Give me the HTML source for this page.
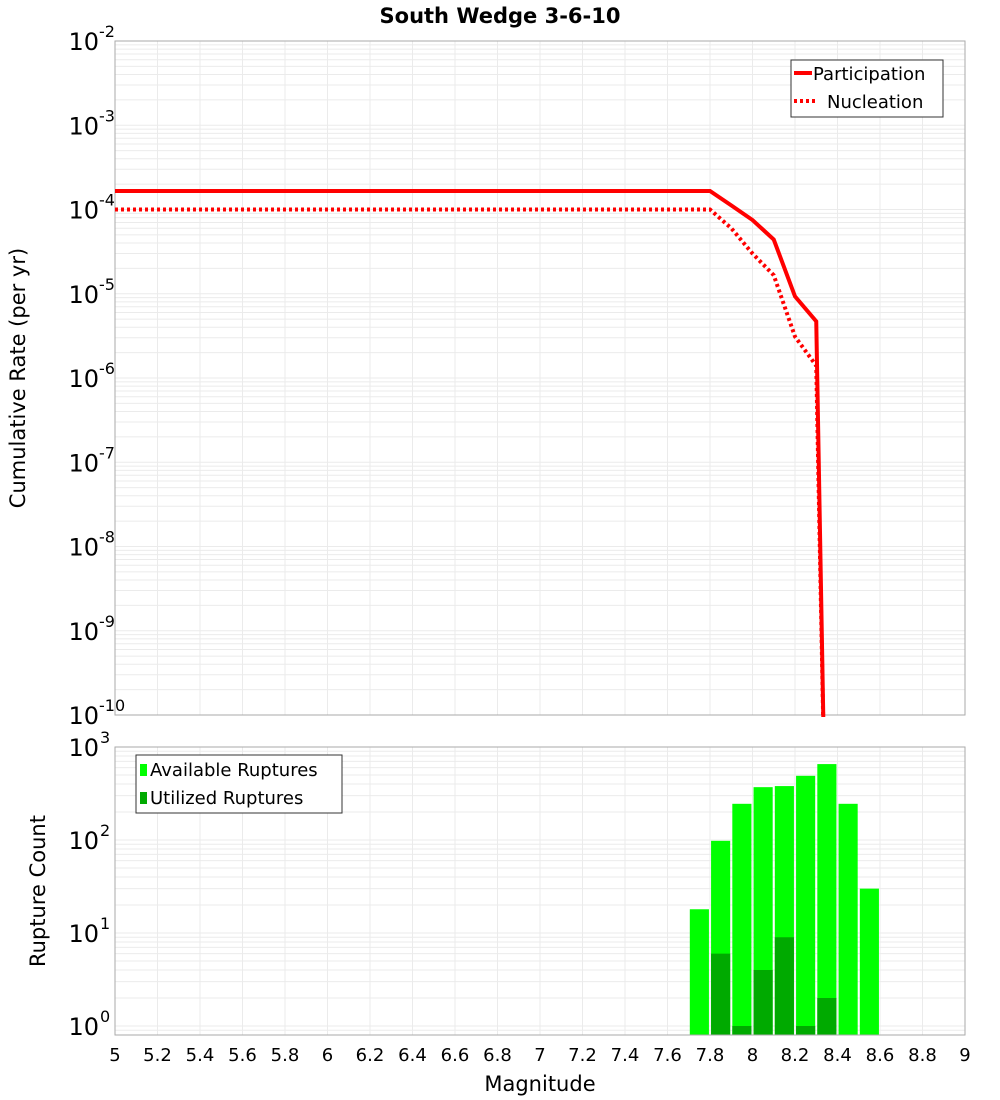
<!DOCTYPE html>
<html><head><meta charset="utf-8"><style>
body{margin:0;background:#fff;}
svg{display:block;font-family:"DejaVu Sans","Liberation Sans",sans-serif;}
</style></head><body>
<svg id="chart" width="1000" height="1100" viewBox="0 0 1000 1100" xmlns="http://www.w3.org/2000/svg">
<text x="500" y="23" text-anchor="middle" font-size="21" font-weight="bold">South Wedge 3-6-10</text>
<g id="topplot"></g>
<g id="botplot"></g>
<text transform="translate(25,378) rotate(-90)" text-anchor="middle" font-size="21">Cumulative Rate (per yr)</text>
<text transform="translate(45,891) rotate(-90)" text-anchor="middle" font-size="21">Rupture Count</text>
<text x="540" y="1091" text-anchor="middle" font-size="21">Magnitude</text>
</svg>
<script>
const partMags=[5,7.8,7.9,8.0,8.1,8.2,8.3,8.34];
const partRates=[1.66e-4,1.66e-4,1.12e-4,7.5e-5,4.4e-5,9.3e-6,4.7e-6,1e-11];
const nuclMags=[5,7.8,7.9,8.0,8.1,8.2,8.3,8.34];
const nuclRates=[1e-4,1e-4,6e-5,3e-5,1.66e-5,3.1e-6,1.4e-6,1e-11];
const binMags=[7.75,7.85,7.95,8.05,8.15,8.25,8.35,8.45,8.55];
const availCounts=[18,98,245,370,380,490,655,245,30];
const usedCounts=[0,6,1,4,9,1,2,0,0];
const xTicks=[5,5.2,5.4,5.6,5.8,6,6.2,6.4,6.6,6.8,7,7.2,7.4,7.6,7.8,8,8.2,8.4,8.6,8.8,9];
const topExps=[-2,-3,-4,-5,-6,-7,-8,-9,-10];
const botExps=[3,2,1,0];

const NS="http://www.w3.org/2000/svg";
const L=115,R=965;
const X=m=>L+(m-5)/4*(R-L);
const T0=41,T1=715;
const Yt=v=>T0+(-2-Math.log10(v))*(T1-T0)/8;
const B0=747,B1=1035,BZ=1026;
const Yb=v=>BZ-Math.log10(v)*(BZ-B0)/3;
function mk(p,tag,attrs){const e=document.createElementNS(NS,tag);for(const k in attrs)e.setAttribute(k,attrs[k]);p.appendChild(e);return e;}
const topG=document.getElementById('topplot'),botG=document.getElementById('botplot');

function grid(g,y0,y1,decY,dmin,dmax){
  for(let d=dmin;d<dmax;d++)for(let k=1;k<10;k++){const y=decY(Math.pow(10,d)*k);if(y<y0-0.5||y>y1+0.5)continue;
    const l=mk(g,'line',{x1:L,x2:R,y1:y,y2:y,stroke:'#ebebeb','stroke-width':1});
    
    }
  xTicks.forEach(t=>{const l=mk(g,'line',{x1:X(t),x2:X(t),y1:y0,y2:y1,stroke:'#ebebeb','stroke-width':1});
    
    });
}
grid(topG,T0,T1,Yt,-10,-2);
grid(botG,B0,B1,Yb,-1,3);

let f=mk(topG,'rect',{x:L,y:T0,width:R-L,height:T1-T0,fill:'none',stroke:'#aaa','stroke-width':1});


topExps.forEach(e=>{const y=Yt(Math.pow(10,e));
  const t=mk(topG,'text',{x:99,y:y+9,'text-anchor':'end','font-size':24});t.textContent='10';
  
  
  const s=mk(topG,'text',{x:99,y:y-4,'font-size':16});s.textContent=String(e);
  
  });
const clip=mk(topG,'clipPath',{id:'tc'});mk(clip,'rect',{x:L,y:T0,width:R-L,height:T1-T0+2});
function line(mags,vals,dash,name){const p=mags.map((m,i)=>X(m)+','+Yt(vals[i])).join(' ');
  const a={points:p,fill:'none',stroke:'#ff0000','stroke-width':4,'clip-path':'url(#tc)','stroke-linejoin':'miter'};
  if(dash)a['stroke-dasharray']='3,3';
  const e=mk(topG,'polyline',a);
  
  }
line(nuclMags,nuclRates,true,'nucleation-line');
line(partMags,partRates,false,'participation-line');
let lg=mk(topG,'g',{});


mk(lg,'rect',{x:791,y:60,width:152,height:57,fill:'#fff',stroke:'#333','stroke-width':1});
mk(lg,'line',{x1:794,x2:812,y1:73,y2:73,stroke:'#f00','stroke-width':4});
mk(lg,'line',{x1:794,x2:818,y1:101,y2:101,stroke:'#f00','stroke-width':4,'stroke-dasharray':'3,3'});
let t=mk(lg,'text',{x:813,y:80,'font-size':18});t.textContent='Participation';


t=mk(lg,'text',{x:827,y:108,'font-size':18});t.textContent='Nucleation';



const bw=(X(5.1)-X(5))*0.9;
const yb=v=>Math.min(B1,Yb(Math.max(v,1e-3)));
binMags.forEach((m,i)=>{
  const y=yb(availCounts[i]);const r=mk(botG,'rect',{x:X(m)-bw/2,y:y,width:bw,height:B1-y,fill:'#00ff00'});
  
  
  if(usedCounts[i]>0){const y2=yb(usedCounts[i]);const u=mk(botG,'rect',{x:X(m)-bw/2,y:y2,width:bw,height:B1-y2,fill:'#00aa00'});
  
  }
});
f=mk(botG,'rect',{x:L,y:B0,width:R-L,height:B1-B0,fill:'none',stroke:'#aaa','stroke-width':1});


botExps.forEach(e=>{const y=Yb(Math.pow(10,e));
  const t=mk(botG,'text',{x:99,y:y+9,'text-anchor':'end','font-size':24});t.textContent='10';
  
  
  const s=mk(botG,'text',{x:100,y:y-4,'font-size':16});s.textContent=String(e);
  
  });
xTicks.forEach(v=>{const t=mk(botG,'text',{x:X(v),y:1061,'text-anchor':'middle','font-size':18});t.textContent=String(v);
  
  });
lg=mk(botG,'g',{});


mk(lg,'rect',{x:136,y:755,width:206,height:58,fill:'#fff',stroke:'#333','stroke-width':1});
mk(lg,'rect',{x:140,y:764,width:7,height:12,fill:'#00ff00'});
mk(lg,'rect',{x:140,y:792,width:7,height:12,fill:'#00aa00'});
t=mk(lg,'text',{x:150,y:776,'font-size':18});t.textContent='Available Ruptures';


t=mk(lg,'text',{x:150,y:804,'font-size':18});t.textContent='Utilized Ruptures';


</script>
</body></html>
